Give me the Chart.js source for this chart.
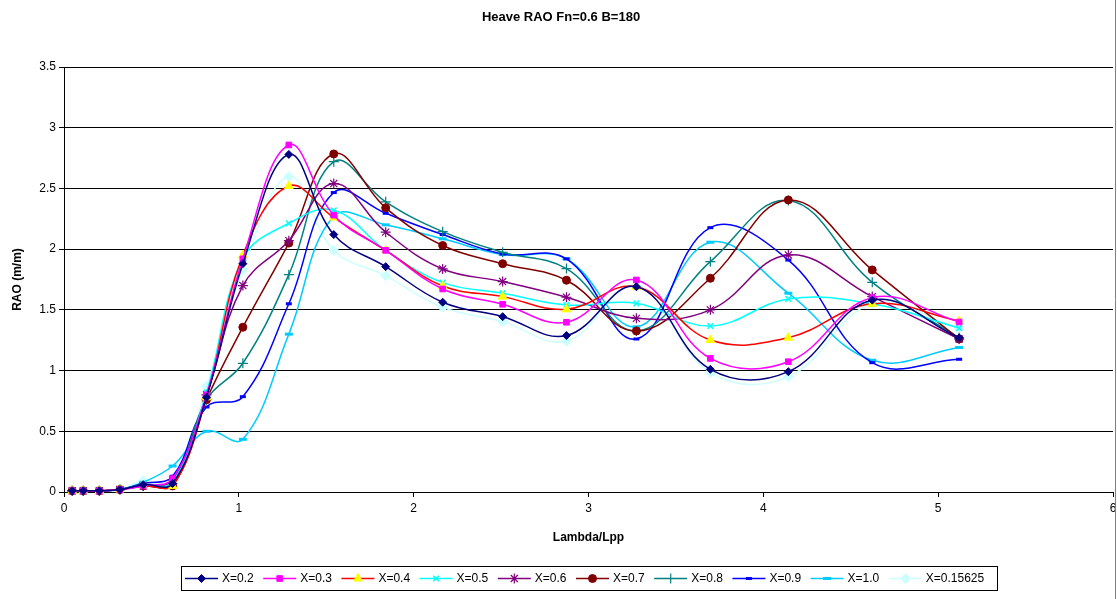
<!DOCTYPE html>
<html>
<head>
<meta charset="utf-8">
<script src="https://cdn.jsdelivr.net/npm/chart.js@4.4.1/dist/chart.umd.min.js"></script>
<style>
html,body{margin:0;padding:0;background:#fff;}
canvas{display:block;}
</style>
</head>
<body>
<canvas id="c" width="1117" height="599"></canvas>
<script>
// Lambda/Lpp values (x)
const lambda = [0.047, 0.11, 0.202, 0.32, 0.453, 0.621, 0.815, 1.023, 1.286, 1.543, 1.84, 2.166, 2.509, 2.874, 3.274, 3.697, 4.143, 4.623, 5.12];

const seriesNames = ['X=0.2','X=0.3','X=0.4','X=0.5','X=0.6','X=0.7','X=0.8','X=0.9','X=1.0','X=0.15625'];

const x02 = [0.01,0.01,0.01,0.02,0.06,0.07,0.78,1.88,2.78,2.12,1.856,1.563,1.444,1.288,1.69,1.01,0.991,1.58,1.27];
const x03 = [0.01,0.01,0.01,0.02,0.05,0.11,0.80,1.92,2.858,2.28,1.99,1.672,1.546,1.398,1.746,1.10,1.073,1.60,1.40];
const x04 = [0.01,0.01,0.01,0.02,0.05,0.05,0.78,1.95,2.52,2.26,1.99,1.697,1.609,1.505,1.69,1.252,1.271,1.55,1.408];
const x05 = [0.01,0.01,0.01,0.02,0.06,0.08,0.82,1.92,2.213,2.32,1.99,1.724,1.637,1.54,1.554,1.367,1.59,1.55,1.35];
const x06 = [0.01,0.01,0.01,0.02,0.05,0.10,0.80,1.70,2.07,2.54,2.14,1.837,1.733,1.604,1.43,1.50,1.952,1.609,1.26];
const x07 = [0.01,0.01,0.01,0.02,0.05,0.05,0.76,1.357,2.05,2.784,2.34,2.03,1.88,1.744,1.326,1.76,2.405,1.829,1.26];
const x08 = [0.01,0.01,0.01,0.02,0.05,0.07,0.76,1.06,1.79,2.72,2.39,2.144,1.974,1.84,1.326,1.897,2.40,1.727,1.27];
const x09 = [0.01,0.01,0.01,0.02,0.07,0.13,0.70,0.785,1.55,2.466,2.295,2.12,1.96,1.92,1.26,2.177,1.91,1.065,1.093];
const x10 = [0.01,0.01,0.01,0.02,0.08,0.214,0.50,0.434,1.30,2.27,2.20,2.085,1.955,1.92,1.36,2.057,1.637,1.085,1.19];
const x015625 = [0.01,0.01,0.01,0.02,0.093,0.07,0.87,1.83,2.597,1.99,1.78,1.521,1.403,1.244,1.70,0.983,0.95,1.55,1.35];

const yTicks = [0, 0.5, 1, 1.5, 2, 2.5, 3, 3.5];
const xTicks = [0, 1, 2, 3, 4, 5, 6];

const values = [x02, x03, x04, x05, x06, x07, x08, x09, x10, x015625];

const styles = [
  {line:'#000080', fill:'#000080', stroke:'#000080', ps:'rectRot', r:4, bw:1},
  {line:'#FF00FF', fill:'#FF00FF', stroke:'#FF00FF', ps:'rect', r:4, bw:1},
  {line:'#FF0000', fill:'#FFFF00', stroke:'#FFFF00', ps:'triangle', r:5, bw:1},
  {line:'#00FFFF', fill:'#00FFFF', stroke:'#00FFFF', ps:'crossRot', r:4, bw:1.5},
  {line:'#800080', fill:'#800080', stroke:'#800080', ps:'star', r:5, bw:1.2},
  {line:'#800000', fill:'#800000', stroke:'#800000', ps:'circle', r:4, bw:1},
  {line:'#008080', fill:'#008080', stroke:'#008080', ps:'cross', r:5, bw:1.2},
  {line:'#0000FF', fill:'#0000FF', stroke:'#0000FF', ps:'line', r:3, bw:3},
  {line:'#00CCFF', fill:'#00CCFF', stroke:'#00CCFF', ps:'line', r:4, bw:3},
  {line:'#CCFFFF', fill:'#CCFFFF', stroke:'#CCFFFF', ps:'rectRot', r:5, bw:1}
];

const datasets = values.map((arr, i) => ({
  label: seriesNames[i],
  data: arr.map((v, j) => ({x: lambda[j], y: v})),
  borderColor: styles[i].line,
  backgroundColor: styles[i].fill,
  borderWidth: 1.5,
  pointStyle: styles[i].ps,
  pointRadius: styles[i].r,
  pointBorderColor: styles[i].stroke,
  pointBackgroundColor: styles[i].fill,
  pointBorderWidth: styles[i].bw,
  tension: 0.4,
  fill: false,
  clip: false
}));

const FONT = 'Arial, "Liberation Sans", sans-serif';

const legendPoint = (ctx, ds, x, y) => {
  ctx.fillStyle = ds.pointBackgroundColor;
  ctx.strokeStyle = ds.pointBorderColor;
  ctx.lineWidth = ds.pointBorderWidth;
  Chart.helpers.drawPoint(ctx, {pointStyle: ds.pointStyle, radius: ds.pointRadius, rotation: 0, borderWidth: ds.pointBorderWidth}, x, y);
};

const decor = {
  id: 'decor',
  afterDraw(chart) {
    const ctx = chart.ctx;
    ctx.save();
    ctx.fillStyle = '#000';
    ctx.font = 'bold 13px ' + FONT;
    ctx.textAlign = 'center';
    ctx.textBaseline = 'middle';
    ctx.fillText('Heave RAO Fn=0.6 B=180', 561, 17);

    // right chart border
    ctx.strokeStyle = '#808080';
    ctx.lineWidth = 1;
    ctx.beginPath();
    ctx.moveTo(1115.5, 0);
    ctx.lineTo(1115.5, 599);
    ctx.stroke();

    const bx = 181, by = 566, bw = 816, bh = 24;
    ctx.strokeStyle = '#000';
    ctx.lineWidth = 1;
    ctx.strokeRect(bx + 0.5, by + 0.5, bw, bh);
    ctx.font = '12px ' + FONT;
    ctx.textAlign = 'left';
    const cy = by + bh / 2 + 0.5;
    chart.data.datasets.forEach((ds, i) => {
      const sx = 185 + i * 78.2;
      ctx.save();
      ctx.strokeStyle = ds.borderColor;
      ctx.lineWidth = 1.5;
      ctx.beginPath();
      ctx.moveTo(sx, cy);
      ctx.lineTo(sx + 33, cy);
      ctx.stroke();
      legendPoint(ctx, ds, sx + 16.5, cy);
      ctx.restore();
      ctx.fillStyle = '#000';
      ctx.fillText(ds.label, sx + 37, cy);
    });
    ctx.restore();
  }
};

new Chart(document.getElementById('c'), {
  type: 'line',
  data: { datasets },
  plugins: [decor],
  options: {
    responsive: false,
    animation: false,
    devicePixelRatio: 1,
    layout: { autoPadding: false, padding: { top: 67, right: 4, bottom: 0, left: 0 } },
    plugins: {
      legend: { display: false },
      title: { display: false },
      tooltip: { enabled: false }
    },
    scales: {
      x: {
        type: 'linear',
        min: 0, max: 6,
        afterFit(s) { s.height = 107; s.paddingLeft = 0; s.paddingRight = 0; },
        afterBuildTicks(s) { s.ticks = xTicks.map(v => ({value: v})); },
        ticks: { color: '#000', font: { family: FONT, size: 12 }, padding: 4, maxRotation: 0, callback: v => String(v) },
        grid: { drawOnChartArea: false, drawTicks: true, tickLength: 5, color: '#000' },
        border: { color: '#000', width: 1 },
        title: { display: true, text: 'Lambda/Lpp', color: '#000', font: { family: FONT, size: 12, weight: 'bold' }, padding: { top: 0, bottom: 54 } }
      },
      y: {
        type: 'linear',
        min: 0, max: 3.5,
        afterFit(s) { s.width = 64; s.paddingTop = 0; s.paddingBottom = 0; },
        afterBuildTicks(s) { s.ticks = yTicks.map(v => ({value: v})); },
        ticks: { color: '#000', font: { family: FONT, size: 12 }, padding: 3, callback: v => String(v) },
        grid: { color: '#000', lineWidth: 1, drawTicks: true, tickLength: 5 },
        border: { color: '#000', width: 1 },
        title: { display: true, text: 'RAO (m/m)', color: '#000', font: { family: FONT, size: 12, weight: 'bold' }, padding: { top: 10, bottom: 0 } }
      }
    }
  }
});
</script>
</body>
</html>
